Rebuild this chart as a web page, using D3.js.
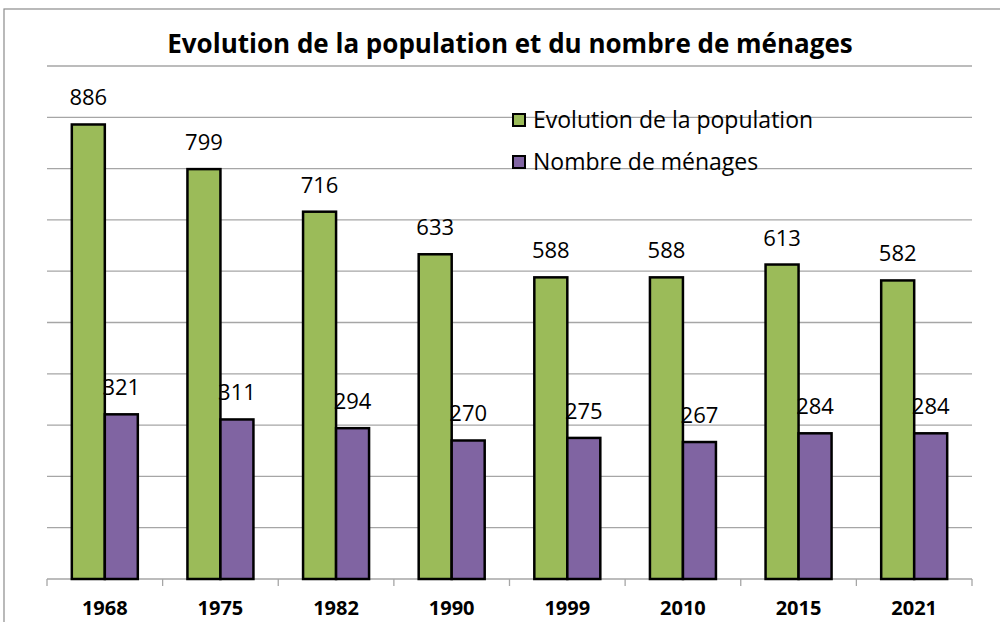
<!DOCTYPE html>
<html>
<head>
<meta charset="utf-8">
<script src="https://d3js.org/d3.v7.min.js"></script>
<style>
body { margin:0; background:#fff; }
text { font-family: "Open Sans", "Noto Sans", sans-serif; fill:#000; }
.grid line { stroke:#a6a6a6; stroke-width:1.3px; }
.bar { stroke:#000; stroke-width:2.5px; }
</style>
</head>
<body>
<script>
// data
var years = ["1968", "1975", "1982", "1990", "1999", "2010", "2015", "2021"];
var population = [886, 799, 716, 633, 588, 588, 613, 582];
var menages = [321, 311, 294, 270, 275, 267, 284, 284];
var seriesNames = ["Evolution de la population", "Nombre de ménages"];
var colors = ["#9bbb59", "#8064a2"];

var width = 1000, height = 622;
var svg = d3.select("body").append("svg")
    .attr("width", width)
    .attr("height", height);

// outer chart border
svg.append("rect")
    .attr("x", 4).attr("y", 9)
    .attr("width", 1010).attr("height", 640)
    .attr("fill", "none")
    .attr("stroke", "#8c8c8c")
    .attr("stroke-width", 1.2);

var plotLeft = 47, plotRight = 972, plotTop = 66, plotBottom = 579;

var x = d3.scaleBand().domain(years).range([plotLeft, plotRight]).paddingInner(0).paddingOuter(0);
var y = d3.scaleLinear().domain([0, 1000]).range([plotBottom, plotTop]);

// gridlines
svg.append("g").attr("class", "grid")
    .selectAll("line")
    .data(y.ticks(10))
    .enter().append("line")
    .attr("x1", plotLeft).attr("x2", plotRight)
    .attr("y1", function(d) { return y(d); })
    .attr("y2", function(d) { return y(d); });

// category tick marks
svg.append("g").attr("class", "grid")
    .selectAll("line")
    .data(d3.range(years.length + 1))
    .enter().append("line")
    .attr("x1", function(i) { return plotLeft + i * x.step(); })
    .attr("x2", function(i) { return plotLeft + i * x.step(); })
    .attr("y1", plotBottom).attr("y2", plotBottom + 7);

var barW = 33;
var series = [population, menages];

series.forEach(function(vals, s) {
    var g = svg.append("g");
    g.selectAll("rect")
        .data(vals)
        .enter().append("rect")
        .attr("class", "bar")
        .attr("x", function(d, i) { return x(years[i]) + x.bandwidth() / 2 - barW + s * barW; })
        .attr("y", function(d) { return y(d); })
        .attr("width", barW)
        .attr("height", function(d) { return plotBottom - y(d); })
        .attr("fill", colors[s]);
    g.selectAll("text")
        .data(vals)
        .enter().append("text")
        .attr("x", function(d, i) { return x(years[i]) + x.bandwidth() / 2 - barW / 2 + s * barW; })
        .attr("y", function(d) { return y(d) - 19; })
        .attr("text-anchor", "middle")
        .style("font-size", "22px")
        .text(function(d) { return d; });
});

// x labels
svg.append("g").selectAll("text")
    .data(years)
    .enter().append("text")
    .attr("x", function(d) { return x(d) + x.bandwidth() / 2; })
    .attr("y", 615)
    .attr("text-anchor", "middle")
    .style("font-size", "20px")
    .style("font-weight", "bold")
    .text(function(d) { return d; });

// title
svg.append("text")
    .attr("x", 510).attr("y", 53)
    .attr("text-anchor", "middle")
    .style("font-size", "26px")
    .style("font-weight", "bold")
    .text("Evolution de la population et du nombre de ménages");

// legend
var legend = svg.append("g").selectAll("g")
    .data(seriesNames)
    .enter().append("g")
    .attr("transform", function(d, i) { return "translate(513," + (120 + i * 42) + ")"; });
legend.append("rect")
    .attr("x", 0).attr("y", -6)
    .attr("width", 12).attr("height", 12)
    .attr("fill", function(d, i) { return colors[i]; })
    .attr("stroke", "#000").attr("stroke-width", 2);
legend.append("text")
    .attr("x", 20).attr("y", 8)
    .style("font-size", "23px")
    .text(function(d) { return d; });
</script>
</body>
</html>
